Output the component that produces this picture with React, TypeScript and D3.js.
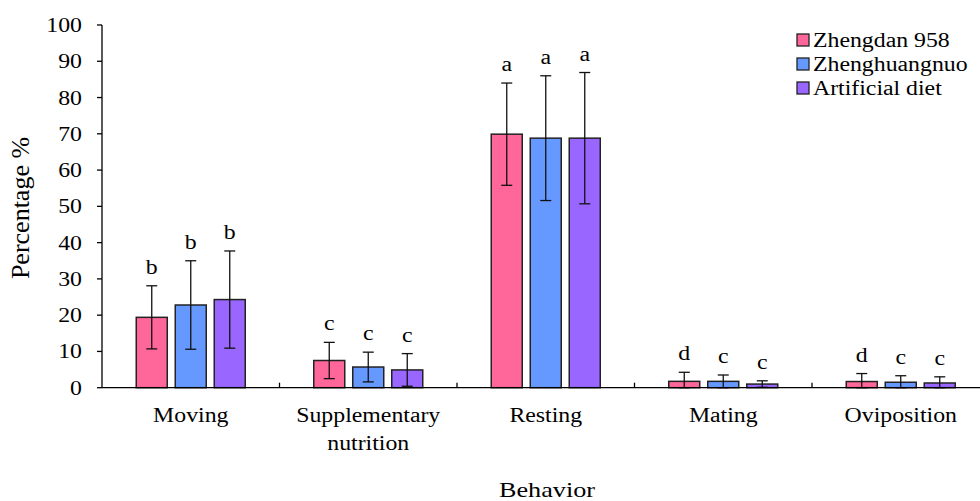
import React from "react";
import * as d3 from "d3";

const categories = ["Moving", "Supplementary nutrition", "Resting", "Mating", "Oviposition"];
const seriesNames = ["Zhengdan 958", "Zhenghuangnuo", "Artificial diet"];
const zhengdan = [19.4, 7.5, 69.9, 1.75, 1.7];
const zhengdanErr = [8.7, 5.0, 14.1, 2.5, 2.2];
const zhenghuang = [22.8, 5.7, 68.8, 1.75, 1.5];
const zhenghuangErr = [12.2, 4.1, 17.2, 1.75, 1.8];
const artificial = [24.3, 4.9, 68.8, 1.0, 1.3];
const artificialErr = [13.4, 4.5, 18.1, 0.9, 1.7];
const letters = [
  ["b", "c", "a", "d", "d"],
  ["b", "c", "a", "c", "c"],
  ["b", "c", "a", "c", "c"],
];
const yTicks = [0, 10, 20, 30, 40, 50, 60, 70, 80, 90, 100];
const colors = ["#FF6699", "#6699FF", "#9966FF"];

const values = [zhengdan, zhenghuang, artificial];
const errors = [zhengdanErr, zhenghuangErr, artificialErr];

const SX = 1.19;

function T({ x, y, children, anchor = "start", size = 20, dy }: any) {
  return (
    <text
      transform={`translate(${x},${y}) scale(${SX},1)`}
      textAnchor={anchor}
      fontSize={size}
      dy={dy}
      fill="#000"
    >
      {children}
    </text>
  );
}

export default function App() {
  const W = 980, H = 501;
  const left = 102, right = 989.5, top = 25, bottom = 387.7;
  const x = d3.scaleBand<string>().domain(categories).range([left, right]).padding(0);
  const y = d3.scaleLinear().domain([0, 100]).range([bottom, top]);
  const barW = 31, gap = 8;
  const boundaries = categories.map((_, i) => left + x.step() * (i + 1));

  return (
    <svg width={W} height={H} style={{ position: "absolute", left: 0, top: 0, fontFamily: "'Liberation Serif', 'Times New Roman', serif" }}>
      <rect x={0} y={0} width={W} height={H} fill="#fff" />
      {values.map((vals, s) =>
        vals.map((v, i) => {
          const cx = (x(categories[i]) as number) + x.bandwidth() / 2 + (s - 1) * (barW + gap);
          const e = errors[s][i];
          const yTop = y(v + e);
          const yBot = y(Math.max(0, v - e));
          return (
            <g key={`${s}-${i}`}>
              <rect x={cx - barW / 2} y={y(v)} width={barW} height={bottom - y(v)} fill={colors[s]} stroke="#222" strokeWidth={1.5} />
              <line x1={cx} x2={cx} y1={yTop} y2={yBot} stroke="#111" strokeWidth={1.3} />
              <line x1={cx - 5.5} x2={cx + 5.5} y1={yTop} y2={yTop} stroke="#111" strokeWidth={1.3} />
              <line x1={cx - 5.5} x2={cx + 5.5} y1={yBot} y2={yBot} stroke="#111" strokeWidth={1.3} />
              <T x={cx} y={yTop - 12} anchor="middle">{letters[s][i]}</T>
            </g>
          );
        })
      )}
      <line x1={left} x2={left} y1={top} y2={bottom} stroke="#000" strokeWidth={1.3} />
      <line x1={left} x2={W} y1={bottom} y2={bottom} stroke="#000" strokeWidth={1.3} />
      {yTicks.map((t) => (
        <g key={t}>
          <line x1={left - 5} x2={left} y1={y(t)} y2={y(t)} stroke="#000" strokeWidth={1.3} />
          <T x={82} y={y(t)} anchor="end" dy="0.35em">{t}</T>
        </g>
      ))}
      {boundaries.map((bx, i) => (
        <line key={i} x1={bx} x2={bx} y1={bottom} y2={bottom - 5} stroke="#000" strokeWidth={1.3} />
      ))}
      {categories.map((c) => {
        const cx = (x(c) as number) + x.bandwidth() / 2;
        const parts = c === "Supplementary nutrition" ? ["Supplementary", "nutrition"] : [c];
        return (
          <g key={c}>
            {parts.map((p, k) => (
              <T key={k} x={cx} y={422 + k * 28} anchor="middle">{p}</T>
            ))}
          </g>
        );
      })}
      <T x={547} y={497} anchor="middle" size={22}>Behavior</T>
      <text transform="translate(29,208) rotate(-90)" textAnchor="middle" fontSize={26} fill="#000">Percentage %</text>
      {seriesNames.map((n, s) => (
        <g key={n} transform={`translate(797,${40 + s * 24})`}>
          <rect x={0} y={-6} width={12} height={12} fill={colors[s]} stroke="#222" strokeWidth={1.3} />
          <T x={16} y={0} dy="0.35em">{n}</T>
        </g>
      ))}
    </svg>
  );
}
